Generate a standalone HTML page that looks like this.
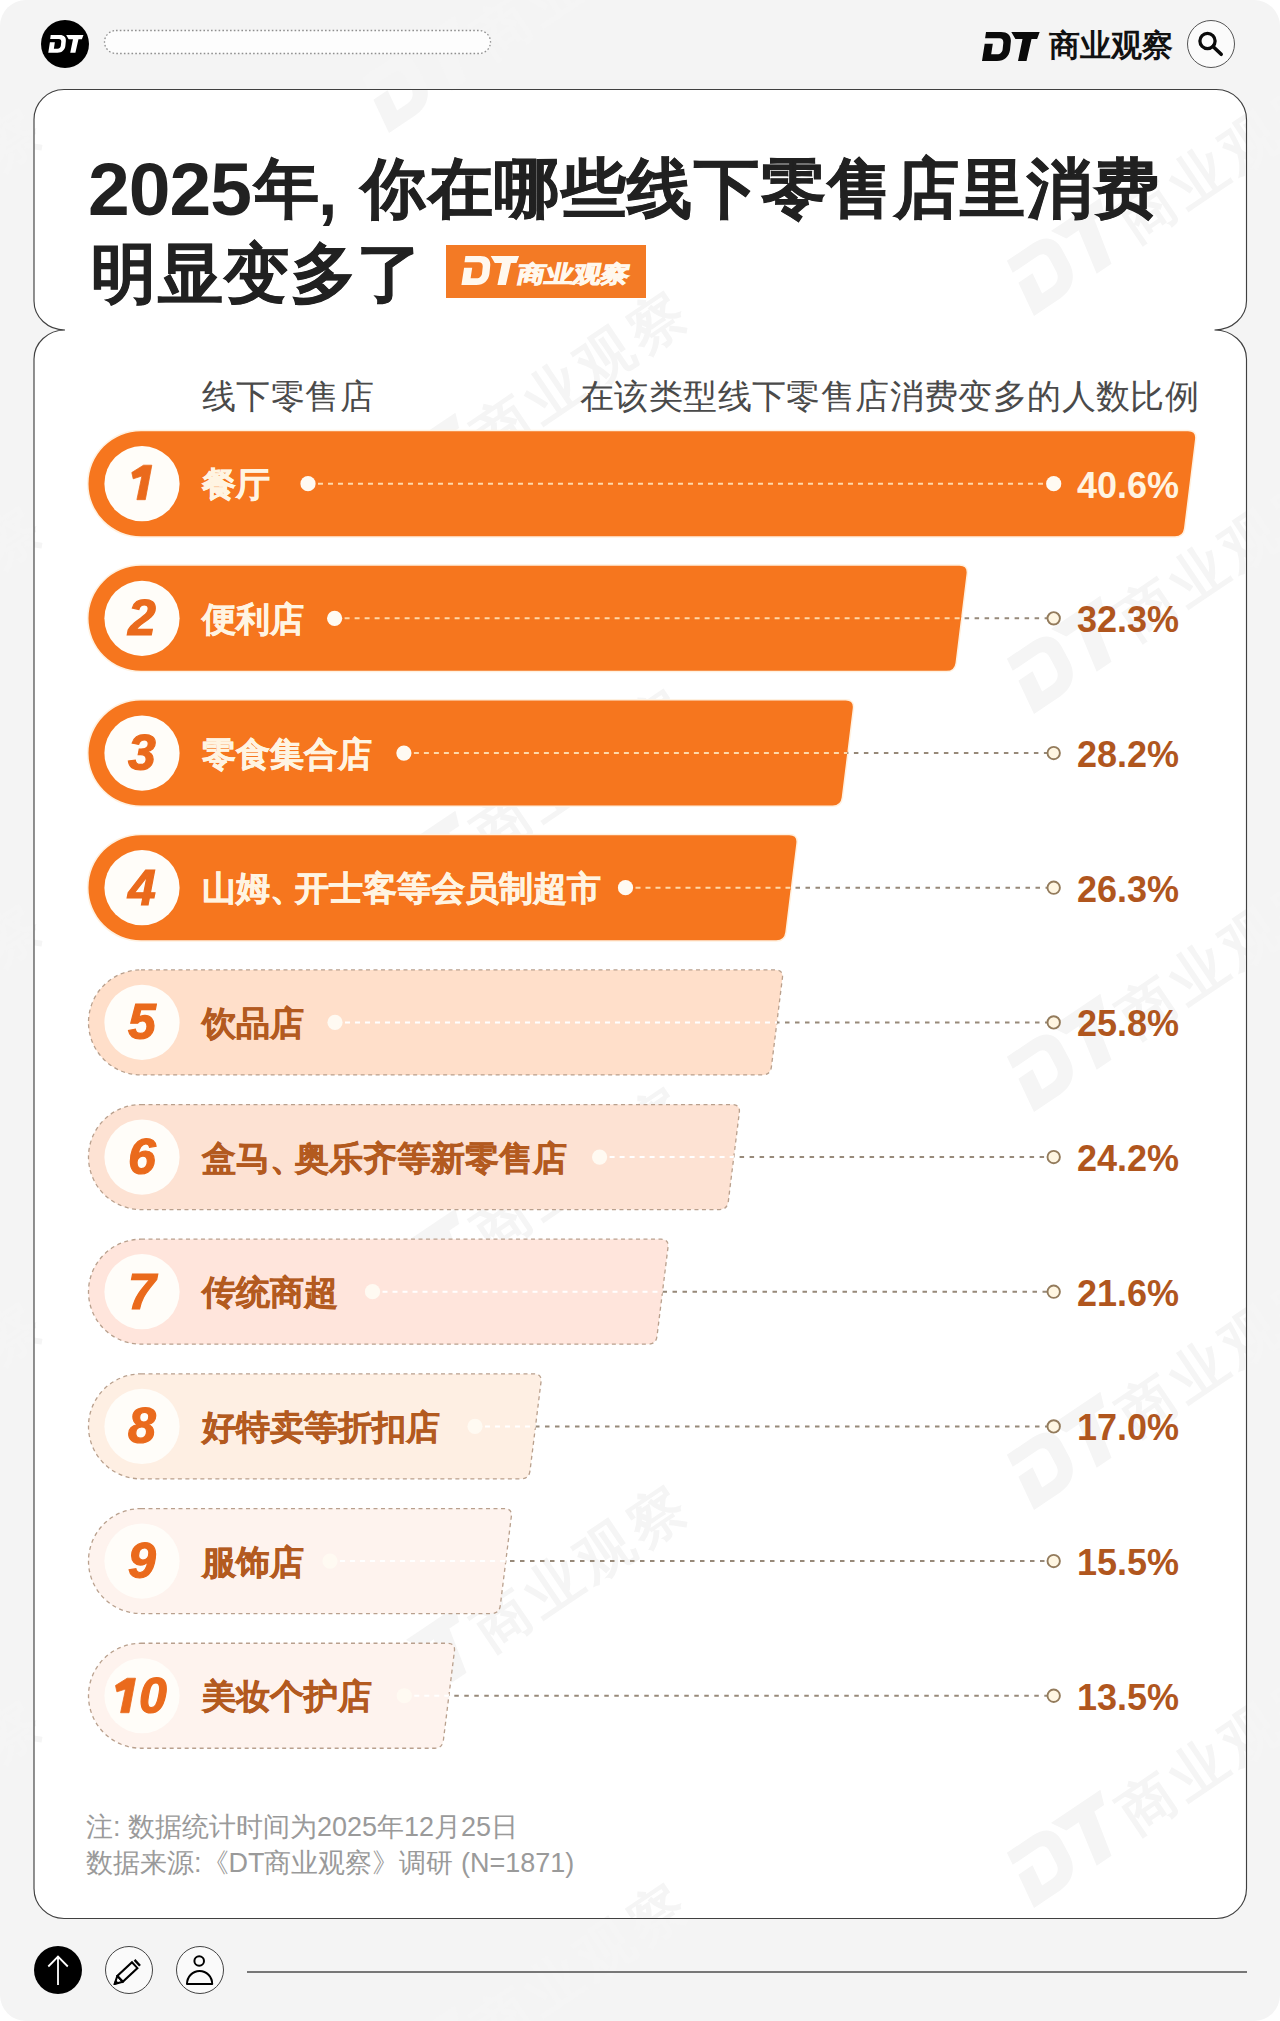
<!DOCTYPE html>
<html><head><meta charset="utf-8">
<style>
*{margin:0;padding:0;box-sizing:border-box}
html,body{width:1280px;height:2021px;overflow:hidden;background:#fff}
body{font-family:"Liberation Sans",sans-serif;position:relative}
.abs{position:absolute}
#page{position:absolute;left:0;top:0;width:1280px;height:2021px;background:#f4f4f4;border-radius:26px;overflow:hidden}
.t{white-space:nowrap;position:absolute;line-height:1}
.title{font-weight:700;font-size:66px;color:#212121}
.tcj{font-size:65px;letter-spacing:1.6px;-webkit-text-stroke:0.8px #212121}
.hdr{font-weight:300;font-size:34px;letter-spacing:0.4px;color:#4a4a4a;top:379px}
.lbl{font-weight:700;font-size:34px;left:202px}
.num{font-weight:700;font-style:italic;font-size:50px}
.pct{font-weight:700;font-size:36px;left:1077px}
.foot{font-weight:300;font-size:27px;color:#9a9a9a;left:86px}
</style></head>
<body>
<div id="page">
<svg class="abs" style="left:0;top:0" width="1280" height="2021" viewBox="0 0 1280 2021" id="cardsvg">
  <path d="M64,89.5 H1216.5 A30,30 0 0 1 1246.5,119.5 V301 A32,29 0 0 1 1214.5,330 A32,29 0 0 1 1246.5,359 V1888.5 A30,30 0 0 1 1216.5,1918.5 H64 A30,30 0 0 1 34,1888.5 V359 A31,29 0 0 1 65,330 A31,29 0 0 1 34,301 V119.5 A30,30 0 0 1 64,89.5 Z" fill="#fff"/>
</svg>
<svg class="abs" style="left:0;top:0" width="1280" height="2021" viewBox="0 0 1280 2021" fill="#f5f5f5"><defs><g id="wm"><path d="M11,7 H26 C33,7 36.5,11 35.8,17 L35,25 C34,31.5 29.5,36 22,36 H7 L9.7,18.7 H17.8 L16.2,29.3 H22 C25.5,29.3 27.3,27 27.6,24.5 L28.3,18 C28.6,15 27,13.3 24.5,13.3 H10.1 Z M36.3,7 H64.7 L62.1,14 H56.5 L51.5,36 H43 L47.5,14 H40.4 Z" transform="translate(-14.7,-75.6) scale(2.1)"/><text x="124" y="-4" font-size="56" font-weight="700" font-family="Liberation Sans, sans-serif" letter-spacing="6">商业观察</text></g></defs><use href="#wm" transform="translate(-256,-50) rotate(-34)"/><use href="#wm" transform="translate(-256,348) rotate(-34)"/><use href="#wm" transform="translate(-256,746) rotate(-34)"/><use href="#wm" transform="translate(-256,1144) rotate(-34)"/><use href="#wm" transform="translate(-256,1542) rotate(-34)"/><use href="#wm" transform="translate(-256,1940) rotate(-34)"/><use href="#wm" transform="translate(-256,2338) rotate(-34)"/><use href="#wm" transform="translate(389,-265) rotate(-34)"/><use href="#wm" transform="translate(389,133) rotate(-34)"/><use href="#wm" transform="translate(389,531) rotate(-34)"/><use href="#wm" transform="translate(389,929) rotate(-34)"/><use href="#wm" transform="translate(389,1327) rotate(-34)"/><use href="#wm" transform="translate(389,1725) rotate(-34)"/><use href="#wm" transform="translate(389,2123) rotate(-34)"/><use href="#wm" transform="translate(1034,-82) rotate(-34)"/><use href="#wm" transform="translate(1034,316) rotate(-34)"/><use href="#wm" transform="translate(1034,714) rotate(-34)"/><use href="#wm" transform="translate(1034,1112) rotate(-34)"/><use href="#wm" transform="translate(1034,1510) rotate(-34)"/><use href="#wm" transform="translate(1034,1908) rotate(-34)"/><use href="#wm" transform="translate(1034,2306) rotate(-34)"/></svg>

<!-- top bar -->
<div class="abs" style="left:41px;top:20px;width:48px;height:48px;border-radius:50%;background:#000"></div>
<svg class="abs" style="left:100px;top:26px" width="400" height="32"><rect x="4.5" y="4.5" width="386" height="23" rx="11.5" fill="#fdfdfd" stroke="#8f8f8f" stroke-width="1.3" stroke-dasharray="1.6 2.2"/></svg>
<div class="abs" style="left:1187px;top:20px;width:48px;height:48px;border-radius:50%;background:#fbfbfb;border:1.2px solid #555"></div>
<svg class="abs" style="left:1187px;top:20px" width="48" height="48" viewBox="0 0 48 48"><circle cx="20.5" cy="21" r="7.6" fill="none" stroke="#0a0a0a" stroke-width="3.3"/><path d="M26,26.5 L34.2,34.3" stroke="#0a0a0a" stroke-width="3.6" stroke-linecap="round"/></svg>
<div class="t" style="left:1049px;top:30px;font-size:30.5px;font-weight:700;color:#111">商业观察</div>

<svg class="abs" style="left:0;top:0" width="1280" height="2021" viewBox="0 0 1280 2021"><path d="M64,89.5 H1216.5 A30,30 0 0 1 1246.5,119.5 V301 A32,29 0 0 1 1214.5,330 A32,29 0 0 1 1246.5,359 V1888.5 A30,30 0 0 1 1216.5,1918.5 H64 A30,30 0 0 1 34,1888.5 V359 A31,29 0 0 1 65,330 A31,29 0 0 1 34,301 V119.5 A30,30 0 0 1 64,89.5 Z" fill="none" stroke="#404040" stroke-width="1.15"/></svg>
<!-- title -->
<div class="t title" style="left:88px;top:152px;font-size:75px;letter-spacing:-1px">2025</div>
<div class="t title tcj" style="left:254px;top:156px">年</div>
<div class="t title" style="left:318px;top:156px;font-size:70px">,</div>
<div class="t title tcj" style="left:361px;top:156px">你在哪些线下零售店里消费</div>
<div class="t title tcj" style="left:91px;top:241px">明显变多了</div>
<div class="abs" style="left:446px;top:245px;width:200px;height:53px;background:#f37a25"></div>

<svg class="abs" style="left:0;top:0" width="1280" height="320" viewBox="0 0 1280 320">
<path d="M11,7 H26 C33,7 36.5,11 35.8,17 L35,25 C34,31.5 29.5,36 22,36 H7 L9.7,18.7 H17.8 L16.2,29.3 H22 C25.5,29.3 27.3,27 27.6,24.5 L28.3,18 C28.6,15 27,13.3 24.5,13.3 H10.1 Z M36.3,7 H64.7 L62.1,14 H56.5 L51.5,36 H43 L47.5,14 H40.4 Z" fill="#fff" transform="translate(44,30.8) scale(0.61)"/>
<path d="M11,7 H26 C33,7 36.5,11 35.8,17 L35,25 C34,31.5 29.5,36 22,36 H7 L9.7,18.7 H17.8 L16.2,29.3 H22 C25.5,29.3 27.3,27 27.6,24.5 L28.3,18 C28.6,15 27,13.3 24.5,13.3 H10.1 Z M36.3,7 H64.7 L62.1,14 H56.5 L51.5,36 H43 L47.5,14 H40.4 Z" fill="#0a0a0a" transform="translate(975,25)"/>
<path d="M11,7 H26 C33,7 36.5,11 35.8,17 L35,25 C34,31.5 29.5,36 22,36 H7 L9.7,18.7 H17.8 L16.2,29.3 H22 C25.5,29.3 27.3,27 27.6,24.5 L28.3,18 C28.6,15 27,13.3 24.5,13.3 H10.1 Z M36.3,7 H64.7 L62.1,14 H56.5 L51.5,36 H43 L47.5,14 H40.4 Z" fill="#fff8ee" transform="translate(454.4,249)"/>
</svg>
<div class="t" style="left:520px;top:263px;font-size:23px;font-weight:700;color:#fff8ee;transform:scaleX(1.22) skewX(-10deg);transform-origin:0 0;-webkit-text-stroke:1px #fff8ee">商业观察</div>
<!-- header -->
<div class="t hdr" style="left:202px">线下零售店</div>
<div class="t hdr" style="left:580px">在该类型线下零售店消费变多的人数比例</div>

<div id="rows"><svg class="abs" style="left:0;top:0" width="1280" height="2021" viewBox="0 0 1280 2021"><path d="M141.00,431.20 H1188.00 Q1196.00,431.20 1195.02,439.14 L1183.98,528.26 Q1183.00,536.20 1175.00,536.20 H141.00 A52.50,52.50 0 0 1 141.00,431.20 Z" fill="#f6761e" stroke="#fff1e0" stroke-width="3" paint-order="stroke"/>
<clipPath id="c0"><path d="M141.00,431.20 H1188.00 Q1196.00,431.20 1195.02,439.14 L1183.98,528.26 Q1183.00,536.20 1175.00,536.20 H141.00 A52.50,52.50 0 0 1 141.00,431.20 Z"/></clipPath>
<line x1="308.0" y1="483.70" x2="1053.7" y2="483.70" stroke="#978979" stroke-width="2" stroke-dasharray="4.5 5.5"/>
<line x1="308.0" y1="483.70" x2="1053.7" y2="483.70" stroke="#f6761e" stroke-width="4" clip-path="url(#c0)"/>
<line x1="308.0" y1="483.70" x2="1053.7" y2="483.70" stroke="#ffd8a8" stroke-width="2" stroke-dasharray="5 5" clip-path="url(#c0)"/>
<circle cx="142" cy="483.70" r="37.6" fill="#fffdf9"/>
<circle cx="308" cy="483.70" r="7.6" fill="#fffaf2"/>
<circle cx="1053.7" cy="483.70" r="7.6" fill="#fffaf2"/>
<path d="M0,0 L-6.5,34.5 L-14.9,34.5 L-9.9,10.8 L-18.6,13.6 L-20,7.3 L-8.3,0 Z" fill="#ea6a1c" stroke="#ea6a1c" stroke-width="0.8" stroke-linejoin="round" transform="translate(151.8,465.20)"/>
<path d="M141.00,565.87 H959.50 Q967.50,565.87 966.52,573.81 L955.48,662.93 Q954.50,670.87 946.50,670.87 H141.00 A52.50,52.50 0 0 1 141.00,565.87 Z" fill="#f6761e" stroke="#fff1e0" stroke-width="3" paint-order="stroke"/>
<clipPath id="c1"><path d="M141.00,565.87 H959.50 Q967.50,565.87 966.52,573.81 L955.48,662.93 Q954.50,670.87 946.50,670.87 H141.00 A52.50,52.50 0 0 1 141.00,565.87 Z"/></clipPath>
<line x1="334.6" y1="618.37" x2="1053.7" y2="618.37" stroke="#978979" stroke-width="2" stroke-dasharray="4.5 5.5"/>
<line x1="334.6" y1="618.37" x2="1053.7" y2="618.37" stroke="#f6761e" stroke-width="4" clip-path="url(#c1)"/>
<line x1="334.6" y1="618.37" x2="1053.7" y2="618.37" stroke="#ffd8a8" stroke-width="2" stroke-dasharray="5 5" clip-path="url(#c1)"/>
<circle cx="142" cy="618.37" r="37.6" fill="#fffdf9"/>
<circle cx="334.6" cy="618.37" r="7.6" fill="#fffaf2"/>
<circle cx="1053.7" cy="618.37" r="6.2" fill="#fff6e2" stroke="#937b5c" stroke-width="1.9"/>
<path d="M141.00,700.54 H845.70 Q853.70,700.54 852.72,708.48 L841.68,797.60 Q840.70,805.54 832.70,805.54 H141.00 A52.50,52.50 0 0 1 141.00,700.54 Z" fill="#f6761e" stroke="#fff1e0" stroke-width="3" paint-order="stroke"/>
<clipPath id="c2"><path d="M141.00,700.54 H845.70 Q853.70,700.54 852.72,708.48 L841.68,797.60 Q840.70,805.54 832.70,805.54 H141.00 A52.50,52.50 0 0 1 141.00,700.54 Z"/></clipPath>
<line x1="403.9" y1="753.04" x2="1053.7" y2="753.04" stroke="#978979" stroke-width="2" stroke-dasharray="4.5 5.5"/>
<line x1="403.9" y1="753.04" x2="1053.7" y2="753.04" stroke="#f6761e" stroke-width="4" clip-path="url(#c2)"/>
<line x1="403.9" y1="753.04" x2="1053.7" y2="753.04" stroke="#ffd8a8" stroke-width="2" stroke-dasharray="5 5" clip-path="url(#c2)"/>
<circle cx="142" cy="753.04" r="37.6" fill="#fffdf9"/>
<circle cx="403.9" cy="753.04" r="7.6" fill="#fffaf2"/>
<circle cx="1053.7" cy="753.04" r="6.2" fill="#fff6e2" stroke="#937b5c" stroke-width="1.9"/>
<path d="M141.00,835.21 H789.30 Q797.30,835.21 796.32,843.15 L785.28,932.27 Q784.30,940.21 776.30,940.21 H141.00 A52.50,52.50 0 0 1 141.00,835.21 Z" fill="#f6761e" stroke="#fff1e0" stroke-width="3" paint-order="stroke"/>
<clipPath id="c3"><path d="M141.00,835.21 H789.30 Q797.30,835.21 796.32,843.15 L785.28,932.27 Q784.30,940.21 776.30,940.21 H141.00 A52.50,52.50 0 0 1 141.00,835.21 Z"/></clipPath>
<line x1="625.5" y1="887.71" x2="1053.7" y2="887.71" stroke="#978979" stroke-width="2" stroke-dasharray="4.5 5.5"/>
<line x1="625.5" y1="887.71" x2="1053.7" y2="887.71" stroke="#f6761e" stroke-width="4" clip-path="url(#c3)"/>
<line x1="625.5" y1="887.71" x2="1053.7" y2="887.71" stroke="#ffd8a8" stroke-width="2" stroke-dasharray="5 5" clip-path="url(#c3)"/>
<circle cx="142" cy="887.71" r="37.6" fill="#fffdf9"/>
<circle cx="625.5" cy="887.71" r="7.6" fill="#fffaf2"/>
<circle cx="1053.7" cy="887.71" r="6.2" fill="#fff6e2" stroke="#937b5c" stroke-width="1.9"/>
<path d="M141.00,969.88 H775.40 Q783.40,969.88 782.42,977.82 L771.38,1066.94 Q770.40,1074.88 762.40,1074.88 H141.00 A52.50,52.50 0 0 1 141.00,969.88 Z" fill="#ffdfca" stroke="#b9a08d" stroke-width="1.3" stroke-dasharray="4 3.5"/>
<clipPath id="c4"><path d="M141.00,969.88 H775.40 Q783.40,969.88 782.42,977.82 L771.38,1066.94 Q770.40,1074.88 762.40,1074.88 H141.00 A52.50,52.50 0 0 1 141.00,969.88 Z"/></clipPath>
<line x1="335.0" y1="1022.38" x2="1053.7" y2="1022.38" stroke="#978979" stroke-width="2" stroke-dasharray="4.5 5.5"/>
<line x1="335.0" y1="1022.38" x2="1053.7" y2="1022.38" stroke="#ffdfca" stroke-width="4" clip-path="url(#c4)"/>
<line x1="335.0" y1="1022.38" x2="1053.7" y2="1022.38" stroke="#ffffff" stroke-width="2" stroke-dasharray="5 5" clip-path="url(#c4)"/>
<circle cx="142" cy="1022.38" r="37.6" fill="#fffdf9"/>
<circle cx="335" cy="1022.38" r="7.6" fill="#fffaf2"/>
<circle cx="1053.7" cy="1022.38" r="6.2" fill="#fff6e2" stroke="#937b5c" stroke-width="1.9"/>
<path d="M141.00,1104.55 H732.30 Q740.30,1104.55 739.32,1112.49 L728.28,1201.61 Q727.30,1209.55 719.30,1209.55 H141.00 A52.50,52.50 0 0 1 141.00,1104.55 Z" fill="#fde2d3" stroke="#b9a08d" stroke-width="1.3" stroke-dasharray="4 3.5"/>
<clipPath id="c5"><path d="M141.00,1104.55 H732.30 Q740.30,1104.55 739.32,1112.49 L728.28,1201.61 Q727.30,1209.55 719.30,1209.55 H141.00 A52.50,52.50 0 0 1 141.00,1104.55 Z"/></clipPath>
<line x1="599.6" y1="1157.05" x2="1053.7" y2="1157.05" stroke="#978979" stroke-width="2" stroke-dasharray="4.5 5.5"/>
<line x1="599.6" y1="1157.05" x2="1053.7" y2="1157.05" stroke="#fde2d3" stroke-width="4" clip-path="url(#c5)"/>
<line x1="599.6" y1="1157.05" x2="1053.7" y2="1157.05" stroke="#ffffff" stroke-width="2" stroke-dasharray="5 5" clip-path="url(#c5)"/>
<circle cx="142" cy="1157.05" r="37.6" fill="#fffdf9"/>
<circle cx="599.6" cy="1157.05" r="7.6" fill="#fffaf2"/>
<circle cx="1053.7" cy="1157.05" r="6.2" fill="#fff6e2" stroke="#937b5c" stroke-width="1.9"/>
<path d="M141.00,1239.22 H661.00 Q669.00,1239.22 668.02,1247.16 L656.98,1336.28 Q656.00,1344.22 648.00,1344.22 H141.00 A52.50,52.50 0 0 1 141.00,1239.22 Z" fill="#ffe5dc" stroke="#b9a08d" stroke-width="1.3" stroke-dasharray="4 3.5"/>
<clipPath id="c6"><path d="M141.00,1239.22 H661.00 Q669.00,1239.22 668.02,1247.16 L656.98,1336.28 Q656.00,1344.22 648.00,1344.22 H141.00 A52.50,52.50 0 0 1 141.00,1239.22 Z"/></clipPath>
<line x1="372.5" y1="1291.72" x2="1053.7" y2="1291.72" stroke="#978979" stroke-width="2" stroke-dasharray="4.5 5.5"/>
<line x1="372.5" y1="1291.72" x2="1053.7" y2="1291.72" stroke="#ffe5dc" stroke-width="4" clip-path="url(#c6)"/>
<line x1="372.5" y1="1291.72" x2="1053.7" y2="1291.72" stroke="#ffffff" stroke-width="2" stroke-dasharray="5 5" clip-path="url(#c6)"/>
<circle cx="142" cy="1291.72" r="37.6" fill="#fffdf9"/>
<circle cx="372.5" cy="1291.72" r="7.6" fill="#fffaf2"/>
<circle cx="1053.7" cy="1291.72" r="6.2" fill="#fff6e2" stroke="#937b5c" stroke-width="1.9"/>
<path d="M141.00,1373.89 H534.00 Q542.00,1373.89 541.02,1381.83 L529.98,1470.95 Q529.00,1478.89 521.00,1478.89 H141.00 A52.50,52.50 0 0 1 141.00,1373.89 Z" fill="#feefe3" stroke="#b9a08d" stroke-width="1.3" stroke-dasharray="4 3.5"/>
<clipPath id="c7"><path d="M141.00,1373.89 H534.00 Q542.00,1373.89 541.02,1381.83 L529.98,1470.95 Q529.00,1478.89 521.00,1478.89 H141.00 A52.50,52.50 0 0 1 141.00,1373.89 Z"/></clipPath>
<line x1="475.0" y1="1426.39" x2="1053.7" y2="1426.39" stroke="#978979" stroke-width="2" stroke-dasharray="4.5 5.5"/>
<line x1="475.0" y1="1426.39" x2="1053.7" y2="1426.39" stroke="#feefe3" stroke-width="4" clip-path="url(#c7)"/>
<line x1="475.0" y1="1426.39" x2="1053.7" y2="1426.39" stroke="#ffffff" stroke-width="2" stroke-dasharray="5 5" clip-path="url(#c7)"/>
<circle cx="142" cy="1426.39" r="37.6" fill="#fffdf9"/>
<circle cx="475" cy="1426.39" r="7.6" fill="#fffaf2"/>
<circle cx="1053.7" cy="1426.39" r="6.2" fill="#fff6e2" stroke="#937b5c" stroke-width="1.9"/>
<path d="M141.00,1508.56 H504.30 Q512.30,1508.56 511.32,1516.50 L500.28,1605.62 Q499.30,1613.56 491.30,1613.56 H141.00 A52.50,52.50 0 0 1 141.00,1508.56 Z" fill="#fef3ee" stroke="#b9a08d" stroke-width="1.3" stroke-dasharray="4 3.5"/>
<clipPath id="c8"><path d="M141.00,1508.56 H504.30 Q512.30,1508.56 511.32,1516.50 L500.28,1605.62 Q499.30,1613.56 491.30,1613.56 H141.00 A52.50,52.50 0 0 1 141.00,1508.56 Z"/></clipPath>
<line x1="330.0" y1="1561.06" x2="1053.7" y2="1561.06" stroke="#978979" stroke-width="2" stroke-dasharray="4.5 5.5"/>
<line x1="330.0" y1="1561.06" x2="1053.7" y2="1561.06" stroke="#fef3ee" stroke-width="4" clip-path="url(#c8)"/>
<line x1="330.0" y1="1561.06" x2="1053.7" y2="1561.06" stroke="#ffffff" stroke-width="2" stroke-dasharray="5 5" clip-path="url(#c8)"/>
<circle cx="142" cy="1561.06" r="37.6" fill="#fffdf9"/>
<circle cx="330" cy="1561.06" r="7.6" fill="#fffaf2"/>
<circle cx="1053.7" cy="1561.06" r="6.2" fill="#fff6e2" stroke="#937b5c" stroke-width="1.9"/>
<path d="M141.00,1643.23 H447.40 Q455.40,1643.23 454.42,1651.17 L443.38,1740.29 Q442.40,1748.23 434.40,1748.23 H141.00 A52.50,52.50 0 0 1 141.00,1643.23 Z" fill="#fef3ee" stroke="#b9a08d" stroke-width="1.3" stroke-dasharray="4 3.5"/>
<clipPath id="c9"><path d="M141.00,1643.23 H447.40 Q455.40,1643.23 454.42,1651.17 L443.38,1740.29 Q442.40,1748.23 434.40,1748.23 H141.00 A52.50,52.50 0 0 1 141.00,1643.23 Z"/></clipPath>
<line x1="404.3" y1="1695.73" x2="1053.7" y2="1695.73" stroke="#978979" stroke-width="2" stroke-dasharray="4.5 5.5"/>
<line x1="404.3" y1="1695.73" x2="1053.7" y2="1695.73" stroke="#fef3ee" stroke-width="4" clip-path="url(#c9)"/>
<line x1="404.3" y1="1695.73" x2="1053.7" y2="1695.73" stroke="#ffffff" stroke-width="2" stroke-dasharray="5 5" clip-path="url(#c9)"/>
<circle cx="142" cy="1695.73" r="37.6" fill="#fffdf9"/>
<circle cx="404.3" cy="1695.73" r="7.6" fill="#fffaf2"/>
<circle cx="1053.7" cy="1695.73" r="6.2" fill="#fff6e2" stroke="#937b5c" stroke-width="1.9"/>
<path d="M0,0 L-6.5,34.5 L-14.9,34.5 L-9.9,10.8 L-18.6,13.6 L-20,7.3 L-8.3,0 Z" fill="#ea6a1c" stroke="#ea6a1c" stroke-width="0.8" stroke-linejoin="round" transform="translate(135.5,1678.23)"/></svg>
<div class="t lbl" style="top:467.2px;color:#fff4e2;-webkit-text-stroke:0.5px #fff4e2">餐厅</div>
<div class="t pct" style="top:467.7px;color:#fff4e2">40.6%</div>
<div class="t num" style="left:82px;width:120px;text-align:center;top:593.4px;color:#ea6a1c;-webkit-text-stroke:1.2px #ea6a1c">2</div>
<div class="t lbl" style="top:601.9px;color:#fff4e2;-webkit-text-stroke:0.5px #fff4e2">便利店</div>
<div class="t pct" style="top:602.4px;color:#b0561e">32.3%</div>
<div class="t num" style="left:82px;width:120px;text-align:center;top:728.0px;color:#ea6a1c;-webkit-text-stroke:1.2px #ea6a1c">3</div>
<div class="t lbl" style="top:736.5px;color:#fff4e2;-webkit-text-stroke:0.5px #fff4e2">零食集合店</div>
<div class="t pct" style="top:737.0px;color:#b0561e">28.2%</div>
<div class="t num" style="left:82px;width:120px;text-align:center;top:862.7px;color:#ea6a1c;-webkit-text-stroke:1.2px #ea6a1c">4</div>
<div class="t lbl" style="top:871.2px;color:#fff4e2;-webkit-text-stroke:0.5px #fff4e2">山姆<span style="margin-right:-9px">、</span>开士客等会员制超市</div>
<div class="t pct" style="top:871.7px;color:#b0561e">26.3%</div>
<div class="t num" style="left:82px;width:120px;text-align:center;top:997.4px;color:#ea6a1c;-webkit-text-stroke:1.2px #ea6a1c">5</div>
<div class="t lbl" style="top:1005.9px;color:#b35a1f;-webkit-text-stroke:0.5px #b35a1f">饮品店</div>
<div class="t pct" style="top:1006.4px;color:#b0561e">25.8%</div>
<div class="t num" style="left:82px;width:120px;text-align:center;top:1132.0px;color:#ea6a1c;-webkit-text-stroke:1.2px #ea6a1c">6</div>
<div class="t lbl" style="top:1140.5px;color:#b35a1f;-webkit-text-stroke:0.5px #b35a1f">盒马<span style="margin-right:-9px">、</span>奥乐齐等新零售店</div>
<div class="t pct" style="top:1141.0px;color:#b0561e">24.2%</div>
<div class="t num" style="left:82px;width:120px;text-align:center;top:1266.7px;color:#ea6a1c;-webkit-text-stroke:1.2px #ea6a1c">7</div>
<div class="t lbl" style="top:1275.2px;color:#b35a1f;-webkit-text-stroke:0.5px #b35a1f">传统商超</div>
<div class="t pct" style="top:1275.7px;color:#b0561e">21.6%</div>
<div class="t num" style="left:82px;width:120px;text-align:center;top:1401.4px;color:#ea6a1c;-webkit-text-stroke:1.2px #ea6a1c">8</div>
<div class="t lbl" style="top:1409.9px;color:#b35a1f;-webkit-text-stroke:0.5px #b35a1f">好特卖等折扣店</div>
<div class="t pct" style="top:1410.4px;color:#b0561e">17.0%</div>
<div class="t num" style="left:82px;width:120px;text-align:center;top:1536.1px;color:#ea6a1c;-webkit-text-stroke:1.2px #ea6a1c">9</div>
<div class="t lbl" style="top:1544.6px;color:#b35a1f;-webkit-text-stroke:0.5px #b35a1f">服饰店</div>
<div class="t pct" style="top:1545.1px;color:#b0561e">15.5%</div>
<div class="t num" style="left:139px;top:1670.7px;color:#ea6a1c;-webkit-text-stroke:1.2px #ea6a1c">0</div>
<div class="t lbl" style="top:1679.2px;color:#b35a1f;-webkit-text-stroke:0.5px #b35a1f">美妆个护店</div>
<div class="t pct" style="top:1679.7px;color:#b0561e">13.5%</div></div><!--/rows-->

<div class="t foot" style="top:1814px">注: 数据统计时间为2025年12月25日</div>
<div class="t foot" style="top:1849.5px">数据来源:《DT商业观察》调研 (N=1871)</div>

<!-- bottom toolbar -->
<div class="abs" style="left:34px;top:1946px;width:48px;height:48px;border-radius:50%;background:#000"></div>
<div class="abs" style="left:105px;top:1946px;width:48px;height:48px;border-radius:50%;background:#fafafa;border:1.2px solid #444"></div>
<div class="abs" style="left:175.5px;top:1946px;width:48px;height:48px;border-radius:50%;background:#fafafa;border:1.2px solid #444"></div>
<div class="abs" style="left:247px;top:1971px;width:1000px;height:1.6px;background:#777"></div>
<svg class="abs" style="left:0;top:1930px" width="260" height="80" viewBox="0 1930 260 80">
<path d="M58,1985 V1956.5 M48.3,1966.5 L58,1956.5 L67.8,1966.5" fill="none" stroke="#fff" stroke-width="1.8" stroke-linejoin="miter"/>
<g transform="rotate(-43 128.5 1971)">
<path d="M117,1967 H137 V1975 H117 Z" fill="none" stroke="#000" stroke-width="2"/>
<path d="M140.5,1967 V1975" stroke="#000" stroke-width="2.4"/>
<path d="M117,1967 L109.5,1971 L117,1975 Z" fill="none" stroke="#000" stroke-width="2" stroke-linejoin="round"/>
<path d="M112.5,1969.5 L109.5,1971 L112.5,1972.5 Z" fill="#000" stroke="#000" stroke-width="1.5"/>
</g>
<circle cx="199.2" cy="1961" r="4.8" fill="none" stroke="#000" stroke-width="2"/>
<path d="M187,1984 A12.5,13 0 0 1 212.2,1984 Z" fill="none" stroke="#000" stroke-width="2" stroke-linejoin="round"/>
</svg>
</div>
</body></html>
